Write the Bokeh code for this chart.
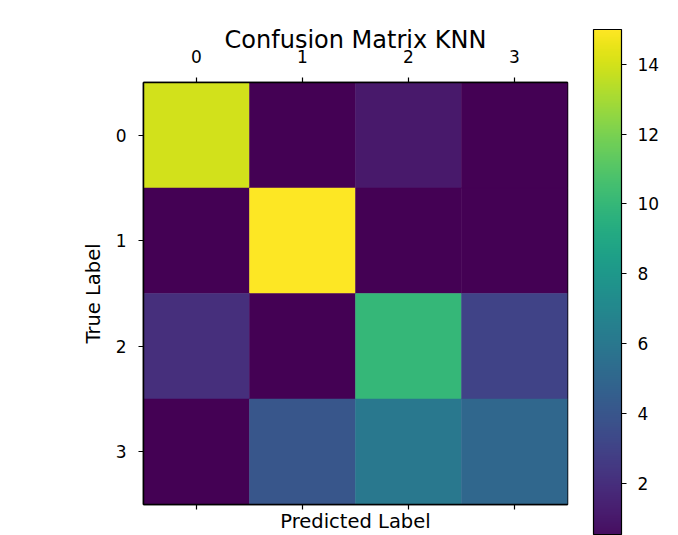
from bokeh.plotting import figure
from bokeh.models import (ColumnDataSource, LinearColorMapper, ColorBar, FixedTicker,
                          LinearAxis, Range1d)
from bokeh.palettes import Viridis256
from bokeh.embed import file_html
from bokeh.resources import INLINE

# ---- data ----
classes = [0, 1, 2, 3]
counts = [
    [14, 0, 1, 0],
    [0, 15, 0, 0],
    [2, 0, 10, 3],
    [0, 4, 6, 5],
]
colorbar_ticks = [2, 4, 6, 8, 10, 12, 14]
title_text = "Confusion Matrix KNN"
x_title = "Predicted Label"
y_title = "True Label"

pred, true, vals = [], [], []
for i, row in enumerate(counts):
    for j, v in enumerate(row):
        pred.append(classes[j])
        true.append(classes[i])
        vals.append(v)
src = ColumnDataSource(dict(pred=pred, true=true, count=vals))

lo = min(vals)
hi = max(vals)
mapper = LinearColorMapper(palette=Viridis256, low=lo, high=hi)

FONT = "DejaVu Sans"
TICK_FS = "17px"

p = figure(width=678, height=535, output_backend="svg", toolbar_location=None,
           x_range=Range1d(-0.5, 3.5), y_range=Range1d(3.5, -0.5),
           x_axis_location="above",
           min_border_left=143, min_border_right=111,
           min_border_top=82, min_border_bottom=30)
p.rect(x="pred", y="true", width=1, height=1, source=src,
       fill_color={"field": "count", "transform": mapper},
       line_color={"field": "count", "transform": mapper}, line_width=0.5)

p.grid.visible = False
p.outline_line_color = "black"
p.outline_line_width = 1.5
p.outline_line_alpha = 1.0
p.background_fill_color = "white"
p.border_fill_color = "white"

p.title.text = title_text
p.title.align = "center"
p.title.text_font = FONT
p.title.text_font_size = "24px"
p.title.text_font_style = "normal"
p.title.text_color = "black"
p.title.standoff = -14


def style_axis(ax, labels=True, standoff=10):
    ax.ticker = FixedTicker(ticks=classes)
    ax.major_tick_in = 0
    ax.major_tick_out = 5
    ax.major_tick_line_color = "black"
    ax.major_tick_line_width = 1.2
    ax.minor_tick_line_color = None
    ax.axis_line_color = "black"
    ax.axis_line_width = 1.5
    ax.major_label_text_font = FONT
    ax.major_label_text_color = "black"
    ax.axis_label_text_font = FONT
    ax.axis_label_text_font_size = "19.5px"
    ax.axis_label_text_font_style = "normal"
    ax.axis_label_text_color = "black"
    if labels:
        ax.major_label_text_font_size = TICK_FS
        ax.major_label_standoff = standoff
    else:
        ax.major_label_overrides = {c: "" for c in classes}
        ax.major_label_text_font_size = "0px"
        ax.major_label_standoff = 0


style_axis(p.xaxis[0], standoff=15)
style_axis(p.yaxis[0], standoff=12)
p.yaxis[0].axis_label = y_title
p.yaxis[0].axis_label_standoff = 8

bottom = LinearAxis()
style_axis(bottom, labels=False)
bottom.axis_label = x_title
bottom.axis_label_standoff = 0
p.add_layout(bottom, "below")

cb = ColorBar(color_mapper=mapper, orientation="vertical", location=(450, -30),
              width=28, height=505, padding=0, margin=0,
              display_low=0.57, display_high=hi,
              ticker=FixedTicker(ticks=colorbar_ticks),
              major_tick_in=0, major_tick_out=5, major_tick_line_color="black",
              major_tick_line_width=1.2, minor_tick_line_color=None,
              label_standoff=11, major_label_text_font=FONT,
              major_label_text_font_size=TICK_FS, major_label_text_color="black",
              bar_line_color="black", bar_line_width=1.2,
              background_fill_color=None, border_line_color=None)
p.add_layout(cb, "center")

open("out.html", "w").write(file_html(p, INLINE))
